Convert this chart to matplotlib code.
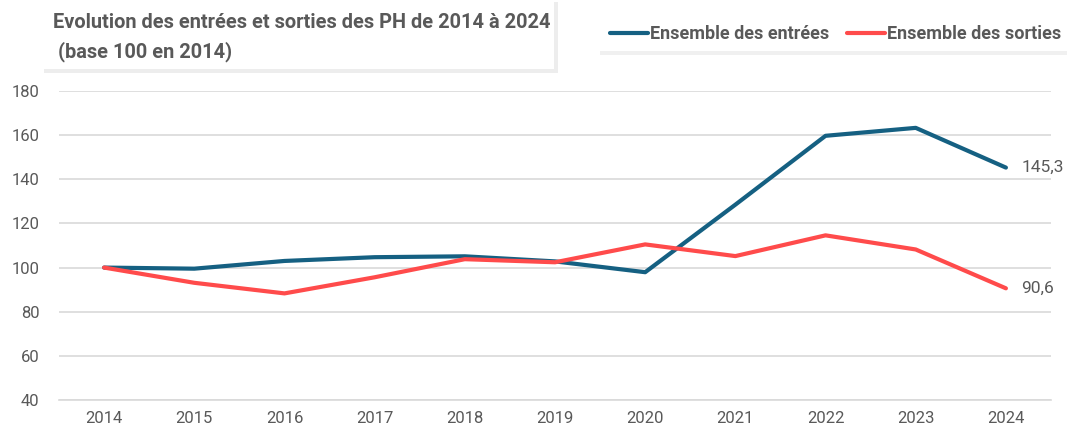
import matplotlib.pyplot as plt
from matplotlib.patches import FancyBboxPatch

plt.rcParams['font.family'] = ['Roboto', 'DejaVu Sans']

# data
years = ['2014', '2015', '2016', '2017', '2018', '2019', '2020', '2021', '2022', '2023', '2024']
entrees = [100, 99.5, 103, 104.7, 105.1, 102.8, 97.9, 128.5, 159.7, 163.3, 145.3]
sorties = [100, 93.1, 88.3, 95.6, 103.8, 102.4, 110.5, 105.2, 114.6, 108.2, 90.6]

grey = '#595959'
blue = '#156082'
red = '#FF4B4B'

fig = plt.figure(figsize=(10.67, 4.32), dpi=100)
ax = fig.add_axes([59/1067, 1 - 400/432, (1051 - 59)/1067, (400 - 91)/432])

x = range(len(years))
ax.plot(x, entrees, color=blue, linewidth=3, solid_capstyle='round', label='Ensemble des entrées')
ax.plot(x, sorties, color=red, linewidth=3, solid_capstyle='round', label='Ensemble des sorties')

ax.annotate('145,3', (10, entrees[-1]), xytext=(11, 0), textcoords='offset points',
            va='center', ha='left', fontsize=12.5, color=grey)
ax.annotate('90,6', (10, sorties[-1]), xytext=(11, 0), textcoords='offset points',
            va='center', ha='left', fontsize=12.5, color=grey)

ax.set_xlim(-0.5, 10.5)
ax.set_ylim(40, 180)
ax.set_yticks(range(40, 181, 20))
ax.set_xticks(list(x))
ax.set_xticklabels(years)
ax.grid(axis='y', color='#d9d9d9', linewidth=1.2)
ax.set_axisbelow(True)
for s in ['top', 'right', 'left']:
    ax.spines[s].set_visible(False)
ax.spines['bottom'].set_color('#d9d9d9')
ax.spines['bottom'].set_linewidth(1.2)
ax.tick_params(length=0, labelsize=12, colors=grey, pad=8)
ax.tick_params(axis='y', pad=14)

# title box with shadow
fig.patches.append(FancyBboxPatch((44/1067, 1 - 73/432), 514/1067, 71/432,
                                  boxstyle='square,pad=0', transform=fig.transFigure,
                                  facecolor='#ededed', edgecolor='none', zorder=0))
fig.patches.append(FancyBboxPatch((42/1067, 1 - 69/432), 512/1067, 69/432,
                                  boxstyle='square,pad=0', transform=fig.transFigure,
                                  facecolor='white', edgecolor='none', zorder=1))
fig.text(53/1067, 1 - 23/432, 'Evolution des entrées et sorties des PH de 2014 à 2024',
         fontsize=14.4, fontweight='bold', color=grey, va='center', ha='left')
fig.text(53/1067, 1 - 52/432, ' (base 100 en 2014)',
         fontsize=14.4, fontweight='bold', color=grey, va='center', ha='left')

# legend box with shadow
fig.patches.append(FancyBboxPatch((600/1067, 1 - 55/432), 467/1067, 45/432,
                                  boxstyle='square,pad=0', transform=fig.transFigure,
                                  facecolor='#f0f0f0', edgecolor='none', zorder=0))
fig.patches.append(FancyBboxPatch((598/1067, 1 - 51/432), 469/1067, 45/432,
                                  boxstyle='square,pad=0', transform=fig.transFigure,
                                  facecolor='white', edgecolor='none', zorder=1))
leg = fig.legend(loc='center left', bbox_to_anchor=(610/1067, 1 - 34/432), ncol=2,
                 frameon=False, fontsize=13, handlelength=2.1, handletextpad=0.1,
                 columnspacing=1.0, borderaxespad=0, borderpad=0)
for t in leg.get_texts():
    t.set_color(grey)
    t.set_fontweight('bold')

fig.savefig('out.png', dpi=100)
